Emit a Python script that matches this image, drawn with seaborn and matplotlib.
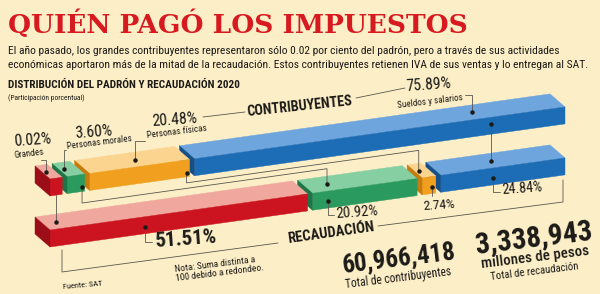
import numpy as np
import pandas as pd
import seaborn as sns
import matplotlib.pyplot as plt
from matplotlib.transforms import Affine2D

# datos
categorias = ["Grandes", "Personas morales", "Personas físicas", "Sueldos y salarios"]
contribuyentes = [0.02, 3.60, 20.48, 75.89]
recaudacion = [51.51, 20.92, 2.74, 24.84]
total_contribuyentes = "60,966,418"
total_recaudacion = "3,338,943"

sns.set_theme(style="white")
plt.rcParams['font.family'] = ['Roboto Condensed', 'Liberation Sans Narrow', 'Roboto', 'DejaVu Sans']

BG = "#fcefc8"
INK = "#1c1a17"
LINE = "#5a5650"
frentes = ["#cc1421", "#2a9a5e", "#f0a01e", "#1d6cb6"]
tapas = ["#f0a79d", "#86cfa2", "#fbd590", "#6ea5dd"]
lados = ["#9c0e17", "#1d7547", "#c57c0c", "#154f88"]

df = pd.DataFrame({
    "fila": ["Contribuyentes"] * 4 + ["Recaudación"] * 4,
    "categoria": categorias * 2,
    "valor": contribuyentes + recaudacion,
    "color": list(range(4)) * 2,
})

# geometria de las barras 3D (cada fila ocupa el mismo ancho = 100%)
MIN_W = 2.5
GAP = 1.0
df["ancho"] = np.maximum(df["valor"], MIN_W)
df["izq"] = df.groupby("fila")["ancho"].transform(lambda s: s.cumsum() - s) + df["color"] * GAP

X0, X1 = 50, 565
H, DX, DY = 17, -15, -13
escala = (X1 - X0) / df.groupby("fila")["ancho"].sum().add(3 * GAP)
geo = {"Contribuyentes": dict(y0=196, k=0.14, s=escala["Contribuyentes"]),
       "Recaudación": dict(y0=247, k=0.14, s=escala["Recaudación"])}


def punto(fila, u, v=0.0, w=0.0):
    g = geo[fila]
    return X0 + g["s"] * u + DX * w, g["y0"] - g["k"] * g["s"] * u - H * v + DY * w


fig = plt.figure(figsize=(6, 2.94), dpi=100, facecolor=BG)
ax = fig.add_axes([0, 0, 1, 1])
ax.set_facecolor(BG)
ax.set_xlim(0, 600)
ax.set_ylim(294, 0)
ax.axis("off")

# barras: cara superior, frente y costado izquierdo
for fila in ["Contribuyentes", "Recaudación"]:
    g = geo[fila]
    S, K = g["s"], g["k"]
    sub = df[df["fila"] == fila].iloc[::-1]
    for _, r in sub.iterrows():
        c = r["color"]
        t_top = Affine2D.from_values(S, -K * S, DX, DY, X0, g["y0"] - H) + ax.transData
        ax.barh(0, r["ancho"], left=r["izq"], height=1, align="edge", color=tapas[c],
                edgecolor=tapas[c], lw=0.3, transform=t_top)
        t_front = Affine2D.from_values(S, -K * S, 0, -H, X0, g["y0"]) + ax.transData
        ax.barh(0, r["ancho"], left=r["izq"], height=1, align="edge", color=frentes[c],
                edgecolor=frentes[c], lw=0.3, transform=t_front)
        uL = r["izq"]
        t_side = Affine2D.from_values(DX, DY, 0, -H, X0 + S * uL, g["y0"] - K * S * uL) + ax.transData
        ax.bar(0, 1, width=1, bottom=0, align="edge", color=lados[c],
               edgecolor=lados[c], lw=0.3, transform=t_side)

top = df[df["fila"] == "Contribuyentes"].reset_index(drop=True)
bot = df[df["fila"] == "Recaudación"].reset_index(drop=True)


def u_de(tabla, i, frac):
    return tabla.loc[i, "izq"] + frac * tabla.loc[i, "ancho"]


def dot(x, y):
    ax.plot(x, y, "o", ms=2.2, color=INK, zorder=6)


# conectores entre filas
frac_con_top = [0.5, 0.85, 0.97, 0.8]
v_con_top = [0.0, 0.25, 0.2, 0.6]
frac_con_bot = [None, 0.21, 0.3, None]
ruta_off = [None, 11.5, 6, None]
for i in range(4):
    x1, y1 = punto("Contribuyentes", u_de(top, i, frac_con_top[i]), v_con_top[i])
    if ruta_off[i] is None:
        gb = geo["Recaudación"]
        x2, y2 = punto("Recaudación", (x1 - X0 - DX * 0.5) / gb["s"], 1, 0.5)
        xs, ys = [x1, x2], [y1, y2]
    else:
        x2, y2 = punto("Recaudación", u_de(bot, i, frac_con_bot[i]), 1, 0.5)
        gt = geo["Contribuyentes"]
        ra = y1 + H * v_con_top[i] + ruta_off[i]
        rb = ra - gt["k"] * (x2 - x1)
        xs, ys = [x1, x1, x2, x2], [y1, ra, rb, y2]
    ax.plot(xs, ys, color=LINE, lw=0.6, zorder=5)
    if v_con_top[i] > 0:
        dot(x1, y1)
    dot(x2, y2)

# etiquetas fila superior (sobre la cara superior)
frac_lbl_top = [0.3, 0.25, 0.53, 0.77]
codo_top = [(160, 41), (150, 66), (141, 145), (95, 465)]
nombre_pos = [(29, 154, "center"), (67, 147, "left"), (147, 136, "left"), (463, 98, "right")]
pct_pos = [(33, 140, "center"), (75, 134, "left"), (152, 122, "left"), (406, 87, "left")]
for i in range(4):
    x, y = punto("Contribuyentes", u_de(top, i, frac_lbl_top[i]), 1, 0.5)
    ly, lx = codo_top[i]
    ax.plot([x, x, lx], [y, ly, ly], color=LINE, lw=0.6, zorder=5)
    dot(x, y)
    nx, ny, ha = nombre_pos[i]
    ax.text(nx, ny, categorias[i], fontsize=6.6, color=INK, ha=ha, va="center",
            rotation=7, rotation_mode="anchor")
    px, py, ha = pct_pos[i]
    ax.text(px, py, f"{contribuyentes[i]:.2f}%", fontsize=11.3, color=INK, ha=ha, va="center",
            rotation=4, rotation_mode="anchor")

# etiquetas fila inferior (sobre el frente)
frac_lbl_bot = [0.37, 0.15, 0.7, 0.42]
codo_bot = [(242, 152), (215, 334), (196, None), (192, 500)]
pct_bot_pos = [(155, 242, "left", 15), (336, 214, "left", 10.5), (439, 205, "center", 9.7),
               (502, 190, "left", 10.2)]
for i in range(4):
    x, y = punto("Recaudación", u_de(bot, i, frac_lbl_bot[i]), 0.4)
    ly, lx = codo_bot[i]
    xs, ys = ([x, x, lx], [y, ly, ly]) if lx else ([x, x], [y, ly])
    ax.plot(xs, ys, color=LINE, lw=0.6, zorder=5)
    dot(x, y)
    px, py, ha, fs = pct_bot_pos[i]
    ax.text(px, py, f"{recaudacion[i]:.2f}%", fontsize=fs, color=INK, ha=ha, va="center",
            rotation=4, rotation_mode="anchor", fontweight="bold" if i == 0 else "normal")

# corchetes de las filas
ax.plot([203, 245], [117, 112], color=LINE, lw=0.6)
ax.plot([356, 405], [98, 88], color=LINE, lw=0.6)
ax.text(300, 106, "CONTRIBUYENTES", fontsize=10.2, fontweight="bold", color=INK,
        ha="center", va="center", rotation=6, rotation_mode="anchor")
ax.plot([62, 62, 278], [250, 272, 243], color=LINE, lw=0.6)
ax.plot([378, 563, 563], [226, 202, 180], color=LINE, lw=0.6)
ax.text(331, 233, "RECAUDACIÓN", fontsize=10.5, fontweight="bold", color=INK,
        ha="center", va="center", rotation=8, rotation_mode="anchor")

# encabezado
ax.text(8, 24, "QUIÉN PAGÓ LOS IMPUESTOS", fontsize=19, fontweight="bold", color="#d71920",
        ha="left", va="center", family=['DejaVu Serif'])
ax.text(8, 51, "El año pasado, los grandes contribuyentes representaron sólo 0.02 por ciento del padrón, "
        "pero a través de sus actividades", fontsize=8.25, color=INK, ha="left", va="center")
ax.text(8, 65, "económicas aportaron más de la mitad de la recaudación. Estos contribuyentes retienen IVA "
        "de sus ventas y lo entregan al SAT.", fontsize=8.25, color=INK, ha="left", va="center")
ax.text(8, 85, "DISTRIBUCIÓN DEL PADRÓN Y RECAUDACIÓN 2020", fontsize=8.1, fontweight="bold",
        color=INK, ha="left", va="center")
ax.text(8, 98, "(Participación porcentual)", fontsize=5.4, color=INK, ha="left", va="center")

# pie
ax.text(63, 285, "Fuente: SAT", fontsize=6, color=INK, ha="left", va="center", rotation=5)
ax.text(175, 274, "Nota: Suma distinta a\n100 debido a redondeo.", fontsize=6.8, color=INK,
        ha="left", va="center", rotation=7, rotation_mode="anchor", linespacing=1.0)
ax.text(399, 258, total_contribuyentes, fontsize=18, fontweight="bold", color=INK,
        ha="center", va="center", rotation=7, rotation_mode="anchor")
ax.text(398, 278, "Total de contribuyentes", fontsize=8.3, color=INK,
        ha="center", va="center", rotation=7, rotation_mode="anchor")
ax.text(534, 238, total_recaudacion, fontsize=21, fontweight="bold", color=INK,
        ha="center", va="center", rotation=7, rotation_mode="anchor")
ax.text(535, 257, "millones de pesos", fontsize=10.8, fontweight="medium", color=INK,
        ha="center", va="center", rotation=7, rotation_mode="anchor")
ax.text(535, 272, "Total de recaudación", fontsize=7.7, color=INK,
        ha="center", va="center", rotation=7, rotation_mode="anchor")

fig.savefig("out.png", dpi=100, facecolor=BG)
